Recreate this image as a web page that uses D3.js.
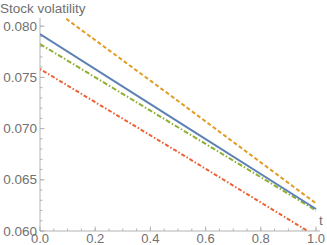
<!DOCTYPE html>
<html>
<head>
<meta charset="utf-8">
<script src="https://cdn.jsdelivr.net/npm/d3@7"></script>
<style>
  body { margin: 0; background: #fff; }
  text { font-family: "Liberation Sans", Arial, sans-serif; fill: #707070; }
</style>
</head>
<body>
<div id="chart"></div>
<script>
// data
const tValues = [0, 0.5, 1];
const blueVol = [0.07924, 0.07068, 0.06215];
const orangeVol = [0.0826, 0.0727, 0.0627];
const greenVol = [0.07826, 0.07013, 0.0620];
const redVol = [0.07582, 0.06772, 0.0595];
const xTicks = [0, 0.2, 0.4, 0.6, 0.8, 1.0];
const yTicks = [0.060, 0.065, 0.070, 0.075, 0.080];

const width = 327;
const height = 245;

const series = [
  { vals: orangeVol, color: '#e19c24', dash: '4,2.5' },
  { vals: greenVol, color: '#8fb032', dash: '5,2,1.5,2' },
  { vals: redVol, color: '#eb6235', dash: '1.5,2,4,2' },
  { vals: blueVol, color: '#5e81b5', dash: null }
];

const x = d3.scaleLinear().domain([0, 1]).range([40, 316]);
const y = d3.scaleLinear().domain([0.060, 0.0808]).range([231, 18]);

const svg = d3.select('#chart').append('svg')
  .attr('width', width)
  .attr('height', height);

svg.append('defs').append('clipPath').attr('id', 'clip')
  .append('rect')
  .attr('x', x(0)).attr('y', y(0.0808))
  .attr('width', x(1) - x(0) + 2).attr('height', y(0.060) - y(0.0808));

// axes
const axisColor = '#b3b3b3';

const gx = svg.append('g').attr('transform', `translate(0,${y(0.060)})`);
gx.append('line').attr('x1', x(0)).attr('x2', x(1) + 4).attr('stroke', axisColor);
gx.selectAll('.minor').data(d3.range(0, 1.0001, 0.05))
  .enter().append('line')
    .attr('x1', d => x(d)).attr('x2', d => x(d))
    .attr('y1', 0).attr('y2', -2.5)
    .attr('stroke', axisColor);
gx.selectAll('.major').data(xTicks)
  .enter().append('line')
    .attr('x1', d => x(d)).attr('x2', d => x(d))
    .attr('y1', 0).attr('y2', -4.5)
    .attr('stroke', axisColor);
gx.selectAll('text').data(xTicks)
  .enter().append('text')
    .attr('x', d => x(d)).attr('y', 12)
    .attr('text-anchor', 'middle')
    .style('font-size', '13px')
    .text(d => d3.format('.1f')(d));

const gy = svg.append('g').attr('transform', `translate(${x(0)},0)`);
gy.append('line').attr('y1', y(0.060)).attr('y2', y(0.0808)).attr('stroke', axisColor);
gy.selectAll('.minor').data(d3.range(0.060, 0.08051, 0.001))
  .enter().append('line')
    .attr('y1', d => y(d)).attr('y2', d => y(d))
    .attr('x1', 0).attr('x2', 2.5)
    .attr('stroke', axisColor);
gy.selectAll('.major').data(yTicks)
  .enter().append('line')
    .attr('y1', d => y(d)).attr('y2', d => y(d))
    .attr('x1', 0).attr('x2', 4.5)
    .attr('stroke', axisColor);
gy.selectAll('text').data(yTicks)
  .enter().append('text')
    .attr('x', -3).attr('y', d => y(d) + 4.5)
    .attr('text-anchor', 'end')
    .style('font-size', '13.5px')
    .text(d => d3.format('.3f')(d));

svg.append('text').attr('x', 0).attr('y', 13)
  .style('font-size', '13.5px').text('Stock volatility');
svg.append('text').attr('x', 319).attr('y', 225)
  .style('font-size', '13.5px').text('t');

// lines
const line = d3.line().x((d, i) => x(tValues[i])).y(d => y(d));

svg.append('g').attr('clip-path', 'url(#clip)')
  .selectAll('path').data(series)
  .enter().append('path')
    .attr('d', d => line(d.vals))
    .attr('fill', 'none')
    .attr('stroke', d => d.color)
    .attr('stroke-width', 2)
    .attr('stroke-dasharray', d => d.dash);
</script>
</body>
</html>
